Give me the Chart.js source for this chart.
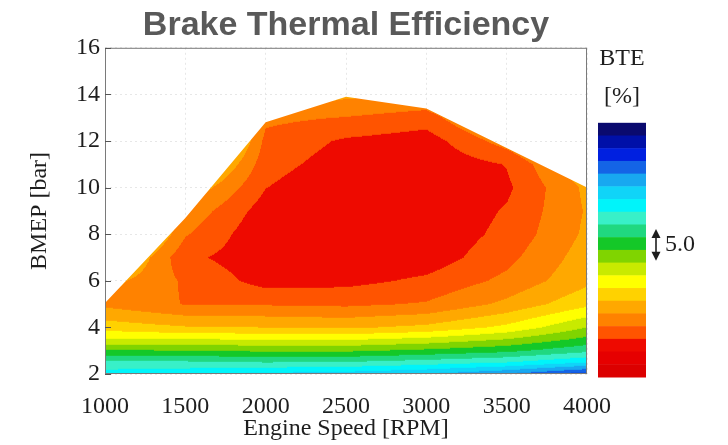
<!DOCTYPE html>
<html>
<head>
<meta charset="utf-8">
<title>Brake Thermal Efficiency</title>
<script src="https://cdn.jsdelivr.net/npm/chart.js"></script>
<style>
  html, body { margin: 0; padding: 0; background: #fff; }
  #wrap { width: 728px; height: 445px; }
</style>
</head>
<body>
<div id="wrap"><canvas id="bteChart" width="728" height="445"></canvas></div>
<script>
// grid of the map: engine speed columns, BMEP rows
const rpm = [1000, 1500, 2000, 2500, 3000, 3500, 4000];
const bmep = [2, 2.5, 3, 3.5, 4, 5, 6, 7, 8, 9, 10, 11, 12, 13, 14];

const bte1000 = [13.0, 15.6, 19.8, 23.8, 26.9, 30.5, 29.15, 25.5, 21.4, 18.0, 16.0, 14.0, 12.0, 10.0, 8.0];
const bte1500 = [12.5, 15.6, 19.9, 24.0, 27.8, 32.1, 32.3, 33.5, 31.8, 30.45, 28.0, 24.0, 18.5, 15.0, 12.0];
const bte2000 = [11.5, 16.0, 20.3, 24.2, 28.0, 32.2, 34.8, 35.3, 35.6, 35.0, 33.95, 33.2, 32.6, 31.5, 28.0];
const bte2500 = [11.0, 15.8, 20.3, 24.3, 28.3, 32.4, 34.6, 35.5, 35.8, 35.8, 35.8, 35.0, 34.3, 32.1, 29.5];
const bte3000 = [10.0, 15.0, 19.5, 23.5, 27.5, 31.8, 33.6, 35.2, 35.6, 35.8, 35.8, 35.6, 35.0, 33.0, 30.0];
const bte3500 = [8.0, 14.0, 18.5, 22.0, 25.5, 29.5, 31.5, 32.6, 33.4, 33.8, 34.4, 33.9, 31.0, 28.0, 26.0];
const bte4000 = [5.0, 12.0, 16.5, 19.5, 22.0, 26.5, 28.5, 29.0, 29.6, 29.8, 29.5, 28.0, 26.0, 24.0, 22.0];

// full-load boundary of the measured area
const envelopeRpm = [1000, 1000, 1500, 2000, 2500, 3000, 4000, 4000];
const envelopeBmep = [2, 5.05, 8.7, 12.8, 13.9, 13.4, 10.0, 2];

// contour levels [%] and axis ticks
const bteLevels = [0, 2, 4, 6, 8, 10, 12, 14, 16, 18, 20, 22, 24, 26, 28, 30, 32, 34, 36, 38, 40];
const levelMark = 5.0;
const rpmTicks = [1000, 1500, 2000, 2500, 3000, 3500, 4000];
const bmepTicks = [2, 4, 6, 8, 10, 12, 14, 16];

// one colour per band, lowest level first (top of the colour bar)
const bandColors = [
  '#0a0a6e', '#0010a8', '#0020e0', '#1464e6', '#18a8f0', '#10d4f8', '#00f4fa', '#38f0c8', '#20d880', '#14c828',
  '#80d400', '#c8ea00', '#ffff00', '#ffd200', '#ffa800', '#ff8200', '#ff5400', '#ee0a00', '#e60000', '#dc0000'
];

const SERIF = '"Liberation Serif", "Times New Roman", serif';
const INK = '#1e1e1e';
const GRID = 'rgba(225,225,225,0.8)';

const bteColumns = [bte1000, bte1500, bte2000, bte2500, bte3000, bte3500, bte4000];
const bandRgb = bandColors.map((h) => [1, 3, 5].map((k) => parseInt(h.slice(k, k + 2), 16)));

function cellOf(arr, v) {
  let i = 0;
  while (i < arr.length - 2 && v > arr[i + 1]) i++;
  const t = Math.max(0, Math.min(1, (v - arr[i]) / (arr[i + 1] - arr[i])));
  return [i, t];
}

function bteAt(r, b) {
  const [i, tx] = cellOf(rpm, r);
  const [j, ty] = cellOf(bmep, b);
  const a = bteColumns[i][j], c = bteColumns[i + 1][j];
  const d = bteColumns[i][j + 1], e = bteColumns[i + 1][j + 1];
  return (a * (1 - tx) + c * tx) * (1 - ty) + (d * (1 - tx) + e * tx) * ty;
}

function bandOf(v) {
  let k = 0;
  while (k < bandColors.length - 1 && v >= bteLevels[k + 1]) k++;
  return k;
}

// filled contour map, clipped to the envelope dataset
const contourField = {
  id: 'contourField',
  beforeDatasetsDraw(chart) {
    const { ctx, chartArea: a, scales: { x, y } } = chart;
    const w = Math.round(a.right - a.left), h = Math.round(a.bottom - a.top);
    const off = document.createElement('canvas');
    off.width = w; off.height = h;
    const octx = off.getContext('2d');
    const img = octx.createImageData(w, h);
    for (let j = 0; j < h; j++) {
      const b = y.getValueForPixel(a.top + j + 0.5);
      for (let i = 0; i < w; i++) {
        const r = x.getValueForPixel(a.left + i + 0.5);
        const c = bandRgb[bandOf(bteAt(r, b))];
        const k = (j * w + i) * 4;
        img.data[k] = c[0]; img.data[k + 1] = c[1]; img.data[k + 2] = c[2]; img.data[k + 3] = 255;
      }
    }
    octx.putImageData(img, 0, 0);

    const pts = chart.getDatasetMeta(0).data;
    ctx.save();
    ctx.beginPath();
    pts.forEach((p, i) => (i ? ctx.lineTo(p.x, p.y) : ctx.moveTo(p.x, p.y)));
    ctx.closePath();
    ctx.clip();
    ctx.drawImage(off, a.left, a.top);
    ctx.restore();
  }
};

// frame, inward ticks, colour bar and its labels
const frameAndBar = {
  id: 'frameAndBar',
  afterDraw(chart) {
    const { ctx, chartArea: a, scales: { y } } = chart;
    ctx.save();
    ctx.strokeStyle = '#7a7a7a';
    ctx.lineWidth = 1;
    ctx.strokeRect(a.left + 0.5, a.top + 0.5, a.right - a.left - 1, a.bottom - a.top - 1);
    ctx.strokeStyle = '#555';
    bmepTicks.forEach((t) => {
      const py = Math.round(y.getPixelForValue(t)) + 0.5;
      ctx.beginPath(); ctx.moveTo(a.left, py); ctx.lineTo(a.left + 6, py); ctx.stroke();
    });

    const barL = a.right + 11, barW = 48, barT = a.top + 75, barB = a.bottom + 3;
    const bandH = (barB - barT) / bandColors.length;
    bandColors.forEach((col, k) => {
      ctx.fillStyle = col;
      ctx.fillRect(barL, barT + k * bandH, barW, bandH + 0.5);
    });

    ctx.fillStyle = INK;
    ctx.font = '24px ' + SERIF;
    ctx.textAlign = 'center';
    ctx.textBaseline = 'middle';
    ctx.fillText('BTE', barL + barW / 2, a.top + 11);
    ctx.fillText('[%]', barL + barW / 2, a.top + 49);

    // arrow spanning one 5.0 % step of the colour bar
    const step = bteLevels[1] - bteLevels[0];
    const arrowLen = levelMark / step * bandH;
    const ax = barL + barW + 10, ay = a.top + 197;
    ctx.strokeStyle = INK;
    ctx.lineWidth = 1.6;
    ctx.beginPath(); ctx.moveTo(ax, ay - arrowLen / 2 + 4); ctx.lineTo(ax, ay + arrowLen / 2 - 4); ctx.stroke();
    [[-1, ay - arrowLen / 2], [1, ay + arrowLen / 2]].forEach(([s, tip]) => {
      ctx.beginPath();
      ctx.moveTo(ax, tip);
      ctx.lineTo(ax - 4.5, tip - s * 9);
      ctx.lineTo(ax + 4.5, tip - s * 9);
      ctx.closePath();
      ctx.fill();
    });
    ctx.textAlign = 'left';
    ctx.fillText(levelMark.toFixed(1), ax + 9, ay);
    ctx.restore();
  }
};

new Chart(document.getElementById('bteChart'), {
  type: 'line',
  data: {
    datasets: [{
      label: 'envelope',
      data: envelopeRpm.map((r, i) => ({ x: r, y: envelopeBmep[i] })),
      showLine: false,
      pointRadius: 0,
      pointHoverRadius: 0
    }]
  },
  options: {
    responsive: false,
    animation: false,
    events: [],
    layout: { padding: { left: 0, right: 141, top: 0, bottom: 0 } },
    plugins: {
      legend: { display: false },
      tooltip: { enabled: false },
      title: {
        display: true,
        text: 'Brake Thermal Efficiency',
        fullSize: false,
        color: '#595959',
        font: { family: '"Liberation Sans", Arial, sans-serif', size: 34, weight: 'bold' },
        padding: { top: 5, bottom: 2 }
      }
    },
    scales: {
      x: {
        type: 'linear',
        min: 1000,
        max: 4000,
        z: 1,
        afterBuildTicks: (s) => { s.ticks = rpmTicks.map((v) => ({ value: v })); },
        afterFit: (s) => { s.height = 71; },
        ticks: {
          autoSkip: false, maxRotation: 0, padding: 18, color: INK, font: { family: SERIF, size: 24 },
          callback: (v) => String(v)
        },
        grid: { color: GRID, drawTicks: false },
        border: { display: false, dash: [2, 3] },
        title: { display: true, text: 'Engine Speed [RPM]', color: INK, font: { family: SERIF, size: 24 }, padding: { top: 0, bottom: 2 } }
      },
      y: {
        type: 'linear',
        min: 2,
        max: 16,
        z: 1,
        afterBuildTicks: (s) => { s.ticks = bmepTicks.map((v) => ({ value: v })); },
        afterFit: (s) => { s.width = 105; },
        ticks: { padding: 5, color: INK, font: { family: SERIF, size: 24 } },
        grid: { color: GRID, drawTicks: false },
        border: { display: false, dash: [2, 3] },
        title: { display: true, text: 'BMEP [bar]', color: INK, font: { family: SERIF, size: 24 }, padding: { top: 25, bottom: 0 } }
      }
    }
  },
  plugins: [contourField, frameAndBar]
});
</script>
</body>
</html>
